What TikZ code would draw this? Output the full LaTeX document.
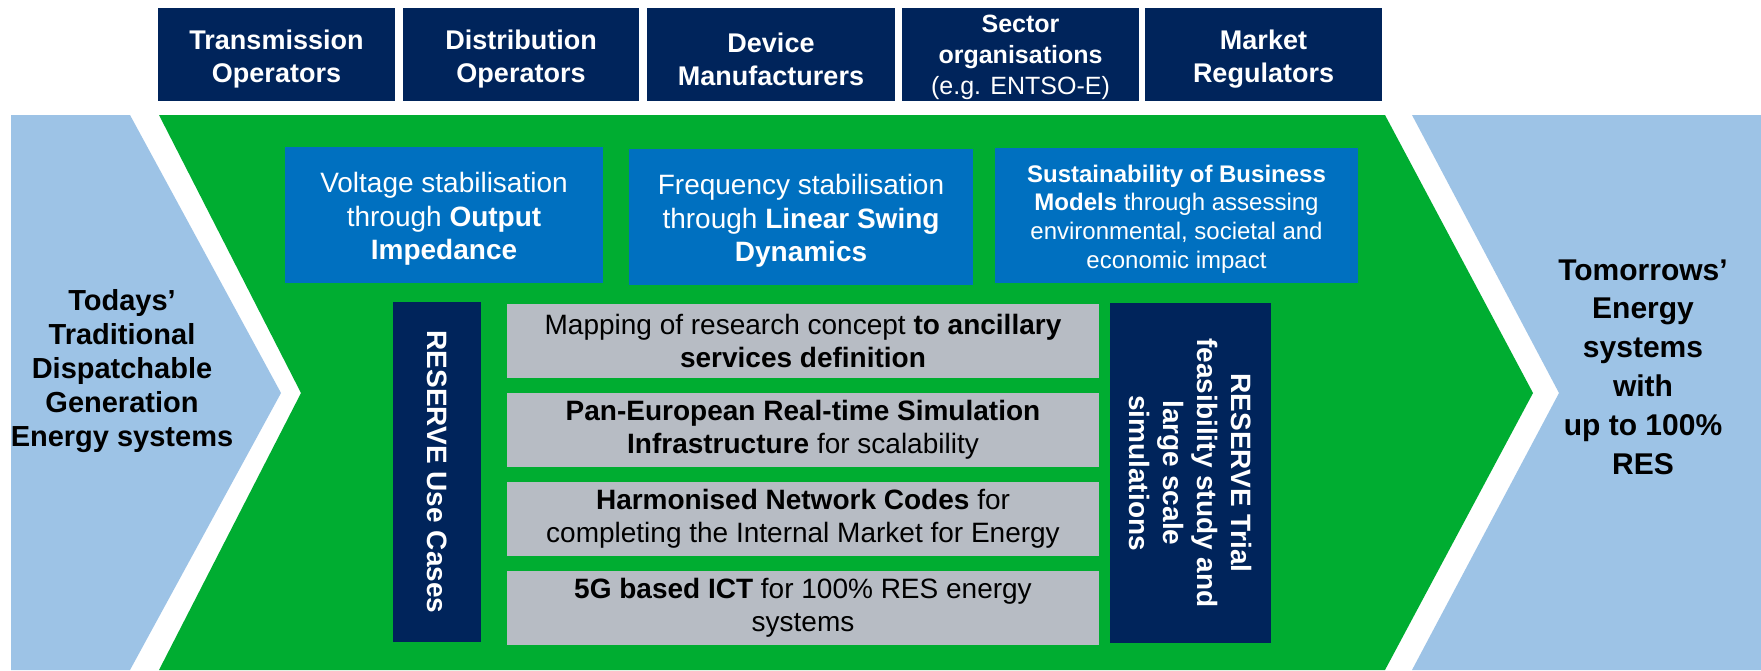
\documentclass[tikz,border=0pt]{standalone}
\usepackage{fontspec}
\setmainfont{Liberation Sans}
\definecolor{navy}{RGB}{0,36,91}
\definecolor{midblue}{RGB}{0,112,192}
\definecolor{grn}{RGB}{0,173,49}
\definecolor{lblue}{RGB}{157,195,230}
\definecolor{gry}{RGB}{183,188,196}
\begin{document}
\begin{tikzpicture}[x=0.5pt,y=-0.5pt,
  topbox/.style={fill=navy, minimum height=46.5pt, inner sep=0pt},
  toptext/.style={text=white, inner sep=0pt, align=center, yshift=-2.2pt,
    font=\fontsize{13.5pt}{16.5pt}\selectfont\bfseries},
  bluebox/.style={fill=midblue, minimum height=68pt, inner sep=0pt},
  bluetext/.style={text=white, inner sep=0pt, align=center, yshift=-2pt,
    font=\fontsize{14pt}{16.75pt}\selectfont},
  greybox/.style={fill=gry, text=black, minimum width=296pt, minimum height=37pt, inner sep=0pt, align=center,
    font=\fontsize{14pt}{16.5pt}\selectfont},
  vertbox/.style={fill=navy, text=white, rotate=-90, minimum width=170pt, inner sep=0pt, align=center,
    font=\fontsize{14pt}{17pt}\selectfont\bfseries},
  bigtext/.style={text=black, align=center, inner sep=0pt}]
\useasboundingbox (0,0) rectangle (1761,670);
\fill[white] (0,0) rectangle (1761,670);
% chevrons
\fill[lblue] (11,115) -- (130,115) -- (281,393) -- (130,670) -- (11,670) -- cycle;
\fill[grn] (159,115) -- (1385,115) -- (1533,393) -- (1385,670) -- (159,670) -- (301,393) -- cycle;
\fill[lblue] (1412,115) -- (1761,115) -- (1761,670) -- (1412,670) -- (1559,393) -- cycle;
% top boxes
\node[topbox, minimum width=118.5pt] (t1) at (276.5,54.5) {};
\node[topbox, minimum width=118pt] (t2) at (521,54.5) {};
\node[topbox, minimum width=124pt] (t3) at (771,54.5) {};
\node[topbox, minimum width=118.5pt] (t4) at (1020.5,54.5) {};
\node[topbox, minimum width=118.5pt] (t5) at (1263.5,54.5) {};
\node[toptext] (t1l) at (t1.center) {Transmission\\Operators};
\node[toptext] (t2l) at (t2.center) {Distribution\\Operators};
\node[toptext] (t3l) at (t3.center) {Device\\Manufacturers};
\node[toptext, yshift=0.7pt, font=\fontsize{12.5pt}{15.5pt}\selectfont] (t4l) at (t4.center)
  {\textbf{Sector}\\\textbf{organisations}\\(e.g. ENTSO-E)};
\node[toptext] (t5l) at (t5.center) {Market\\Regulators};
% blue boxes
\node[bluebox, minimum width=159pt] (b1) at (444,215) {};
\node[bluebox, minimum width=172pt] (b2) at (801,217) {};
\node[bluebox, minimum width=181.5pt, minimum height=67.5pt] (b3) at (1176.5,215.5) {};
\node[bluetext] (b1l) at (b1.center) {Voltage stabilisation\\through \textbf{Output}\\\textbf{Impedance}};
\node[bluetext] (b2l) at (b2.center) {Frequency stabilisation\\through \textbf{Linear Swing}\\\textbf{Dynamics}};
\node[bluetext, yshift=0.3pt, font=\fontsize{12pt}{14.3pt}\selectfont] (b3l) at (b3.center)
  {\textbf{Sustainability of Business}\\\textbf{Models} through assessing\\environmental, societal and\\economic impact};
% vertical boxes
\node[vertbox, minimum height=44pt] (uc) at (437,472) {RESERVE Use Cases};
\node[vertbox, minimum height=80.5pt] (tr) at (1190.5,473) {RESERVE Trial\\feasibility study and\\large scale\\simulations};
% grey rows
\node[greybox] (g1) at (803,341) {Mapping of research concept \textbf{to ancillary}\\\textbf{services definition}};
\node[greybox] (g2) at (803,430) {\textbf{Pan-European Real-time Simulation}\\\textbf{Infrastructure} for scalability};
\node[greybox] (g3) at (803,519) {\textbf{Harmonised Network Codes} for\\completing the Internal Market for Energy};
\node[greybox] (g4) at (803,608) {\textbf{5G based ICT} for 100\% RES energy\\systems};
% chevron texts
\node[bigtext, font=\fontsize{14.5pt}{17pt}\selectfont\bfseries] (today) at (122,371)
  {Todays’\\Traditional\\Dispatchable\\Generation\\Energy systems};
\node[bigtext, font=\fontsize{15pt}{19.4pt}\selectfont\bfseries] (tomorrow) at (1643,367)
  {Tomorrows’\\Energy\\systems\\with\\up to 100\%\\RES};
\end{tikzpicture}
\end{document}
